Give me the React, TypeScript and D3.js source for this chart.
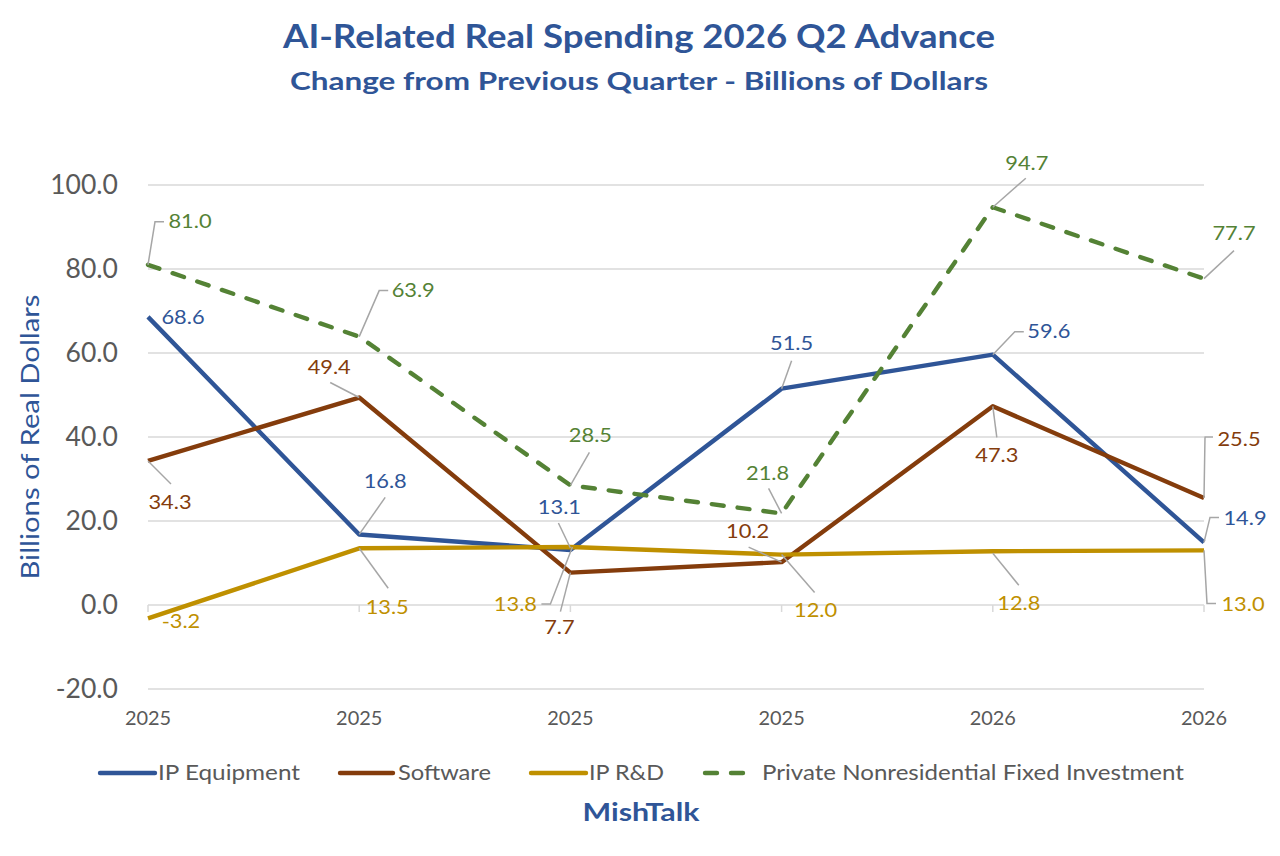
import React from "react";
import * as d3 from "d3";

const categories = ["2025", "2025", "2025", "2025", "2026", "2026"];
const seriesNames = ["IP Equipment", "Software", "IP R&D", "Private Nonresidential Fixed Investment"];
const ipEquipment = [68.6, 16.8, 13.1, 51.5, 59.6, 14.9];
const software = [34.3, 49.4, 7.7, 10.2, 47.3, 25.5];
const ipRD = [-3.2, 13.5, 13.8, 12.0, 12.8, 13.0];
const pnfi = [81.0, 63.9, 28.5, 21.8, 94.7, 77.7];
const yTicks = [-20, 0, 20, 40, 60, 80, 100];

// layout / style (not data)
const colors = ["#2F5597", "#843C0C", "#BF9000", "#548235"];
type LabelPos = { dx: number; dy: number; leader?: [number, number][] };
const labelLayout: LabelPos[][] = [
  [
    { dx: 35, dy: 1 },
    { dx: 26, dy: -53, leader: [[0, 0], [26, -37]] },
    { dx: -11, dy: -42, leader: [[0, -2], [-12, -27]] },
    { dx: 10, dy: -45, leader: [[0, 0], [10, -28]] },
    { dx: 56, dy: -23, leader: [[0, 0], [22, -23], [31, -23]] },
    { dx: 41, dy: -24, leader: [[0, 0], [6, -25], [15, -25]] },
  ],
  [
    { dx: 22, dy: 42, leader: [[0, 0], [23, 23]] },
    { dx: -30, dy: -30, leader: [[0, 0], [-29, -15]] },
    { dx: -11, dy: 55, leader: [[0, 0], [-10, 39]] },
    { dx: -34, dy: -31, leader: [[0, 0], [-33, -15]] },
    { dx: 4, dy: 49, leader: [[0, 0], [4, 31]] },
    { dx: 35, dy: -58, leader: [[0, 0], [1, -61], [9, -61]] },
  ],
  [
    { dx: 33, dy: 3 },
    { dx: 28, dy: 59, leader: [[0, 0], [29, 40]] },
    { dx: -55, dy: 57, leader: [[2, 0], [-20, 57], [-29, 57]] },
    { dx: 34, dy: 56, leader: [[0, 0], [33, 38]] },
    { dx: 26, dy: 52, leader: [[0, 2], [26, 34]] },
    { dx: 39, dy: 54, leader: [[0, 0], [3, 53], [12, 53]] },
  ],
  [
    { dx: 42, dy: -43, leader: [[0, 0], [7, -43], [16, -43]] },
    { dx: 54, dy: -46, leader: [[0, 0], [20, -46], [29, -46]] },
    { dx: 20, dy: -50, leader: [[0, 0], [19, -33]] },
    { dx: -14, dy: -40, leader: [[0, 0], [-13, -25]] },
    { dx: 34, dy: -44, leader: [[0, 0], [33, -29]] },
    { dx: 30, dy: -45, leader: [[0, 0], [30, -28]] },
  ],
];
const legendLayout = [
  { x0: 100, x1: 155, tx: 158, len: 142 },
  { x0: 340, x1: 393, tx: 398, len: 93 },
  { x0: 531, x1: 586, tx: 589, len: 75 },
  { x0: 703, x1: 753, tx: 762, len: 422 },
];

const FONT = "Lato, 'Open Sans', sans-serif";
const fmt = (v: number) => v.toFixed(1);

function SText(props: {
  x: number;
  y: number;
  sx?: number;
  anchor?: "start" | "middle" | "end";
  size: number;
  fill: string;
  weight?: number;
  children: React.ReactNode;
}) {
  const { x, y, sx = 1, anchor = "start", size, fill, weight = 400, children } = props;
  return (
    <text
      transform={`translate(${x},${y}) scale(${sx},1)`}
      textAnchor={anchor}
      dy="0.35em"
      fontSize={size}
      fontWeight={weight}
      fill={fill}
    >
      {children}
    </text>
  );
}

export default function App() {
  const W = 1280;
  const H = 856;
  const left = 148;
  const right = 1204;
  const x = d3.scalePoint<number>().domain(d3.range(categories.length)).range([left, right]);
  const y = d3.scaleLinear().domain([-20, 100]).range([689, 185]);
  const allSeries = [ipEquipment, software, ipRD, pnfi];
  const line = d3
    .line<number>()
    .x((_, i) => x(i) as number)
    .y((d) => y(d));

  return (
    <svg width={W} height={H} style={{ position: "absolute", left: 0, top: 0, background: "#fff" }} fontFamily={FONT}>
      <rect x={0} y={0} width={W} height={H} fill="#fff" />
      <text
        x={639}
        y={48}
        textAnchor="middle"
        fontSize={32}
        fontWeight={700}
        fill="#2F5597"
        textLength={712}
        lengthAdjust="spacingAndGlyphs"
      >
        AI-Related Real Spending 2026 Q2 Advance
      </text>
      <text
        x={639}
        y={90}
        textAnchor="middle"
        fontSize={25}
        fontWeight={700}
        fill="#2F5597"
        textLength={698}
        lengthAdjust="spacingAndGlyphs"
      >
        Change from Previous Quarter - Billions of Dollars
      </text>

      {yTicks.map((t) => (
        <g key={t}>
          <line x1={left} x2={right} y1={y(t)} y2={y(t)} stroke="#D9D9D9" strokeWidth={1.5} />
          <SText x={118} y={y(t)} sx={1.02} anchor="end" size={26} fill="#595959">
            {fmt(t)}
          </SText>
        </g>
      ))}
      {categories.map((c, i) => (
        <g key={i}>
          <line x1={x(i)} x2={x(i)} y1={y(0)} y2={y(0) + 7} stroke="#D9D9D9" strokeWidth={1.5} />
          <SText x={x(i) as number} y={718} sx={1.05} anchor="middle" size={19} fill="#595959">
            {c}
          </SText>
        </g>
      ))}
      <text
        transform={`translate(30,437) rotate(-90)`}
        textAnchor="middle"
        dy="0.35em"
        fontSize={25}
        fill="#2F5597"
        textLength={285}
        lengthAdjust="spacingAndGlyphs"
      >
        Billions of Real Dollars
      </text>

      {allSeries.map((s, si) => (
        <path
          key={si}
          d={line(s) || ""}
          fill="none"
          stroke={colors[si]}
          strokeWidth={4.4}
          strokeLinejoin="round"
          strokeLinecap={si === 3 ? "round" : "butt"}
          strokeDasharray={si === 3 ? "12 14" : undefined}
        />
      ))}

      {allSeries.map((s, si) =>
        s.map((v, i) => {
          const px = x(i) as number;
          const py = y(v);
          const L = labelLayout[si][i];
          return (
            <g key={`${si}-${i}`}>
              {L.leader && (
                <polyline
                  points={L.leader.map(([a, b]) => `${px + a},${py + b}`).join(" ")}
                  fill="none"
                  stroke="#A6A6A6"
                  strokeWidth={1.5}
                />
              )}
              <SText x={px + L.dx} y={py + L.dy} sx={1.18} anchor="middle" size={18.5} fill={colors[si]}>
                {fmt(v)}
              </SText>
            </g>
          );
        })
      )}

      {seriesNames.map((n, si) => {
        const L = legendLayout[si];
        return (
          <g key={n}>
            <line
              x1={L.x0 + (si === 3 ? 2 : 0)}
              x2={L.x1 - (si === 3 ? 2 : 0)}
              y1={773}
              y2={773}
              stroke={colors[si]}
              strokeWidth={4.4}
              strokeLinecap="round"
              strokeDasharray={si === 3 ? "12 14" : undefined}
            />
            <text
              x={L.tx}
              y={773}
              dy="0.35em"
              fontSize={20.5}
              fill="#595959"
              textLength={L.len}
              lengthAdjust="spacingAndGlyphs"
            >
              {n}
            </text>
          </g>
        );
      })}
      <text
        x={641}
        y={812}
        dy="0.35em"
        textAnchor="middle"
        fontSize={25}
        fontWeight={700}
        fill="#2F5597"
        textLength={117}
        lengthAdjust="spacingAndGlyphs"
      >
        MishTalk
      </text>
    </svg>
  );
}
